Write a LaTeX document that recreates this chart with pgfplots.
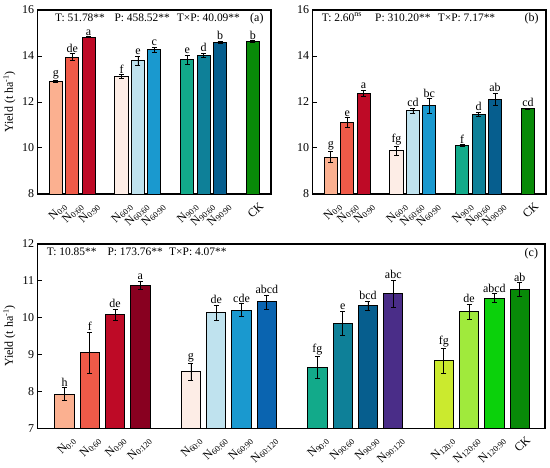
\documentclass[border=0pt]{standalone}
\usepackage{pgfplots}
\pgfplotsset{compat=1.18}
\usepackage{fontspec}
\setmainfont{Liberation Serif}

\definecolor{R1}{HTML}{FBB090}
\definecolor{R2}{HTML}{EF5A48}
\definecolor{R3}{HTML}{BE0A26}
\definecolor{R4}{HTML}{880020}
\definecolor{B1}{HTML}{FDEDE6}
\definecolor{B2}{HTML}{BFE2EE}
\definecolor{B3}{HTML}{1A99CF}
\definecolor{B4}{HTML}{0A64B0}
\definecolor{T1}{HTML}{12AA8A}
\definecolor{T2}{HTML}{0E8098}
\definecolor{T3}{HTML}{065E8E}
\definecolor{T4}{HTML}{4A2D88}
\definecolor{G1}{HTML}{CBEA2E}
\definecolor{G2}{HTML}{A0EA3C}
\definecolor{G3}{HTML}{0BD10B}
\definecolor{CK}{HTML}{088A08}

\newcommand{\Ns}[1]{N\raisebox{-0.3ex}{\fontsize{8.5}{9}\selectfont #1}}

\newcommand{\mybar}[5]{%
  \addplot[ybar, bar width=\bw, bar shift=0pt, fill=#1, draw=black, line width=0.9bp,
    error bars/.cd, y dir=both, y explicit,
    error bar style={line width=0.7bp, black},
    error mark options={rotate=90, mark size=2.5bp, line width=0.7bp, black}]
    coordinates {(#2,#3) +- (0,#4)};
  \node[anchor=south, inner sep=1.2bp, font=\fontsize{12}{13}\selectfont] at (axis cs:#2,#3+#4) {#5};
}

\pgfplotsset{
  myaxis/.style={
    scale only axis,
    axis line style={line width=1.2bp},
    tick style={line width=1bp, black},
    major tick length=4bp,
    ytick pos=left,
    xtick style={draw=none},
    clip=true,
    tick label style={font=\fontsize{12}{13}\selectfont},
    /pgf/number format/assume math mode=true,
    xticklabel style={font=\fontsize{12}{13}\selectfont, rotate=45, anchor=north east, inner xsep=1bp, inner ysep=9bp},
    ylabel style={font=\fontsize{12}{13}\selectfont},
  }
}

\begin{document}
\begin{tikzpicture}
\useasboundingbox (0,0) rectangle (550bp,468bp);

% Panel (a)
\begin{axis}[myaxis,
  at={(37.7bp,274bp)}, anchor=south west,
  width=233.3bp, height=184bp,
  xmin=-1.1, xmax=13.1, ymin=8, ymax=16,
  ytick={8,10,12,14,16},
  ylabel={Yield (t ha\textsuperscript{-1})},
  xtick={0,1,2,4,5,6,8,9,10,12},
  xticklabels={\Ns{0:0},\Ns{0:60},\Ns{0:90},\Ns{60:0},\Ns{60:60},\Ns{60:90},\Ns{90:0},\Ns{90:60},\Ns{90:90},CK},
]
\def\bw{0.8}
\mybar{R1}{0}{12.89}{0.05}{g}
\mybar{R2}{1}{13.95}{0.15}{de}
\mybar{R3}{2}{14.82}{0.02}{a}
\mybar{B1}{4}{13.12}{0.07}{f}
\mybar{B2}{5}{13.79}{0.20}{e}
\mybar{B3}{6}{14.27}{0.10}{c}
\mybar{T1}{8}{13.85}{0.20}{e}
\mybar{T2}{9}{14.03}{0.10}{d}
\mybar{T3}{10}{14.58}{0.05}{b}
\mybar{CK}{12}{14.64}{0.03}{b}
\node[anchor=base west, font=\fontsize{11.5}{12}\selectfont] at (rel axis cs:0,1) [xshift=14bp, yshift=-11bp] {T: 51.78**};
\node[anchor=base west, font=\fontsize{11.5}{12}\selectfont] at (rel axis cs:0,1) [xshift=73.3bp, yshift=-11bp] {P: 458.52**};
\node[anchor=base west, font=\fontsize{11.5}{12}\selectfont] at (rel axis cs:0,1) [xshift=135.6bp, yshift=-11bp] {T×P: 40.09**};
\node[anchor=base east, font=\fontsize{12}{13}\selectfont] at (rel axis cs:1,1) [xshift=-4bp, yshift=-11bp] {(a)};
\end{axis}

% Panel (b)
\begin{axis}[myaxis,
  at={(312.7bp,274bp)}, anchor=south west,
  width=233.3bp, height=184bp,
  xmin=-1.1, xmax=13.1, ymin=8, ymax=16,
  ytick={8,10,12,14,16},
  xtick={0,1,2,4,5,6,8,9,10,12},
  xticklabels={\Ns{0:0},\Ns{0:60},\Ns{0:90},\Ns{60:0},\Ns{60:60},\Ns{60:90},\Ns{90:0},\Ns{90:60},\Ns{90:90},CK},
]
\def\bw{0.8}
\mybar{R1}{0}{9.61}{0.25}{g}
\mybar{R2}{1}{11.10}{0.22}{e}
\mybar{R3}{2}{12.38}{0.12}{a}
\mybar{B1}{4}{9.88}{0.20}{fg}
\mybar{B2}{5}{11.62}{0.12}{cd}
\mybar{B3}{6}{11.83}{0.32}{bc}
\mybar{T1}{8}{10.11}{0.03}{f}
\mybar{T2}{9}{11.47}{0.08}{d}
\mybar{T3}{10}{12.12}{0.25}{ab}
\mybar{CK}{12}{11.70}{0.03}{cd}
\node[anchor=base west, font=\fontsize{11.5}{12}\selectfont] at (rel axis cs:0,1) [xshift=5.6bp, yshift=-11bp] {T: 2.60\textsuperscript{ns}};
\node[anchor=base west, font=\fontsize{11.5}{12}\selectfont] at (rel axis cs:0,1) [xshift=59bp, yshift=-11bp] {P: 310.20**};
\node[anchor=base west, font=\fontsize{11.5}{12}\selectfont] at (rel axis cs:0,1) [xshift=121.6bp, yshift=-11bp] {T×P: 7.17**};
\node[anchor=base east, font=\fontsize{12}{13}\selectfont] at (rel axis cs:1,1) [xshift=-4bp, yshift=-11bp] {(b)};
\end{axis}

% Panel (c)
\begin{axis}[myaxis,
  at={(37.7bp,39.7bp)}, anchor=south west,
  width=507.3bp, height=184.3bp,
  xmin=-1.06, xmax=19.0, ymin=7, ymax=12,
  ytick={7,8,9,10,11,12},
  ylabel={Yield (t ha\textsuperscript{-1})},
  xtick={0,1,2,3,5,6,7,8,10,11,12,13,15,16,17,18},
  xticklabels={\Ns{0:0},\Ns{0:60},\Ns{0:90},\Ns{0:120},\Ns{60:0},\Ns{60:60},\Ns{60:90},\Ns{60:120},\Ns{90:0},\Ns{90:60},\Ns{90:90},\Ns{90:120},\Ns{120:0},\Ns{120:60},\Ns{120:90},CK},
]
\def\bw{0.76}
\mybar{R1}{0}{7.93}{0.17}{h}
\mybar{R2}{1}{9.05}{0.56}{f}
\mybar{R3}{2}{10.08}{0.15}{de}
\mybar{R4}{3}{10.88}{0.12}{a}
\mybar{B1}{5}{8.53}{0.22}{g}
\mybar{B2}{6}{10.13}{0.21}{de}
\mybar{B3}{7}{10.21}{0.17}{cde}
\mybar{B4}{8}{10.43}{0.19}{abcd}
\mybar{T1}{10}{8.65}{0.30}{fg}
\mybar{T2}{11}{9.84}{0.33}{e}
\mybar{T3}{12}{10.32}{0.13}{bcd}
\mybar{T4}{13}{10.65}{0.37}{abc}
\mybar{G1}{15}{8.83}{0.33}{fg}
\mybar{G2}{16}{10.16}{0.20}{de}
\mybar{G3}{17}{10.53}{0.12}{abcd}
\mybar{CK}{18}{10.77}{0.18}{ab}
\node[anchor=base west, font=\fontsize{11.5}{12}\selectfont] at (rel axis cs:0,1) [xshift=5.6bp, yshift=-11.7bp] {T: 10.85**};
\node[anchor=base west, font=\fontsize{11.5}{12}\selectfont] at (rel axis cs:0,1) [xshift=66.3bp, yshift=-11.7bp] {P: 173.76**};
\node[anchor=base west, font=\fontsize{11.5}{12}\selectfont] at (rel axis cs:0,1) [xshift=128bp, yshift=-11.7bp] {T×P: 4.07**};
\node[anchor=base east, font=\fontsize{12}{13}\selectfont] at (rel axis cs:1,1) [xshift=-3.5bp, yshift=-12.5bp] {(c)};
\end{axis}
\end{tikzpicture}
\end{document}
